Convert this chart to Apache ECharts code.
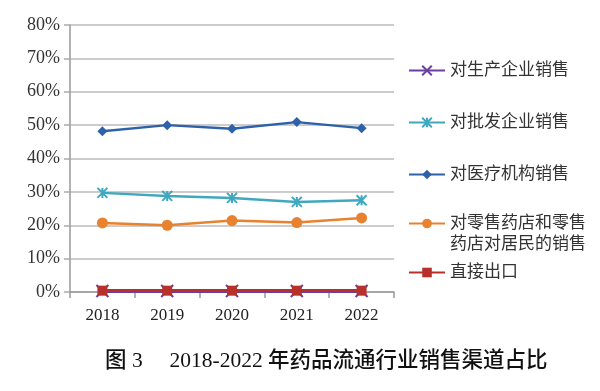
<!DOCTYPE html>
<html><head><meta charset="utf-8">
<script src="https://cdn.jsdelivr.net/npm/echarts@6/dist/echarts.min.js"></script>
<style>html,body{margin:0;padding:0;background:#fff}#c{width:600px;height:391px}</style>
</head><body><div id="c"></div>
<script>
const years = ['2018','2019','2020','2021','2022'];
const yTicks = [0,10,20,30,40,50,60,70,80];
const producer = [0.3,0.3,0.3,0.3,0.3];
const wholesale = [29.7,28.8,28.2,27.0,27.5];
const medical = [48.2,50.0,48.9,50.9,49.1];
const retail = [20.7,20.0,21.4,20.8,22.2];
const exportDirect = [0.4,0.4,0.4,0.4,0.4];
const names = ['对生产企业销售','对批发企业销售','对医疗机构销售','对零售药店和零售\n药店对居民的销售','直接出口'];
const colors = ['#6B3FA0','#3FA8BF','#2D62AB','#E9822E','#B7312C'];

const serif = "'Liberation Serif','Noto Sans CJK SC',serif";
const cjk = "'Liberation Serif','Noto Sans CJK SC',sans-serif";
const xPath = 'path://M0,0L10,10M10,0L0,10';
const starPath = 'path://M0,0L10,10M10,0L0,10M5,0L5,10';
const syms = [xPath, starPath, 'diamond', 'circle', 'rect'];
const symSizes = [12, 10, 10, 11, 10];
const widths = [4, 2.5, 2.5, 2.5, 2.5];
const dataSets = [producer, wholesale, medical, retail, exportDirect];
const legendTops = [55, 107, 159, 187, 257];

const chart = echarts.init(document.getElementById('c'));
chart.setOption({
  animation:false,
  title:{text:'图 3\u2003 2018-2022 年药品流通行业销售渠道占比', left:100, top:346,
    textStyle:{fontFamily:cjk, fontSize:21.5, fontWeight:500, color:'#111'}},
  legend: names.map((n,i)=>({
    data:[n], left:403, top:legendTops[i], orient:'vertical', itemWidth:36, itemHeight:12, itemGap:0,
    formatter: s => s.indexOf('\n')>=0 ? ' \n'+s : s,
    textStyle:{fontFamily:cjk, fontSize:17, color:'#333', lineHeight:21}
  })),
  grid:{left:70, right:206, top:25, bottom:99},
  xAxis:{type:'category', data:years, boundaryGap:true,
    axisLine:{lineStyle:{color:'#999', width:1.5}},
    axisTick:{show:true, length:6, inside:false, lineStyle:{color:'#999', width:1.5}},
    axisLabel:{fontFamily:serif, fontSize:17, color:'#222', margin:15}},
  yAxis:{type:'value', min:0, max:80, interval:10,
    axisLine:{show:true, lineStyle:{color:'#999', width:1.5}},
    axisTick:{show:true, length:6, lineStyle:{color:'#aaa', width:1.5}},
    splitLine:{lineStyle:{color:'#bbb', width:1.5}},
    axisLabel:{formatter: v => yTicks.includes(v) ? v+'%' : '', fontFamily:serif, fontSize:18, color:'#333', margin:10}},
  series: names.map((n,i)=>({
    name:n, type:'line', data:dataSets[i], symbol:syms[i], symbolSize:symSizes[i],
    lineStyle:{color:colors[i], width:widths[i]},
    itemStyle:{color:colors[i], borderColor:colors[i], borderWidth: i<2 ? 2 : 0},
    z: 2+i
  }))
});
</script></body></html>
